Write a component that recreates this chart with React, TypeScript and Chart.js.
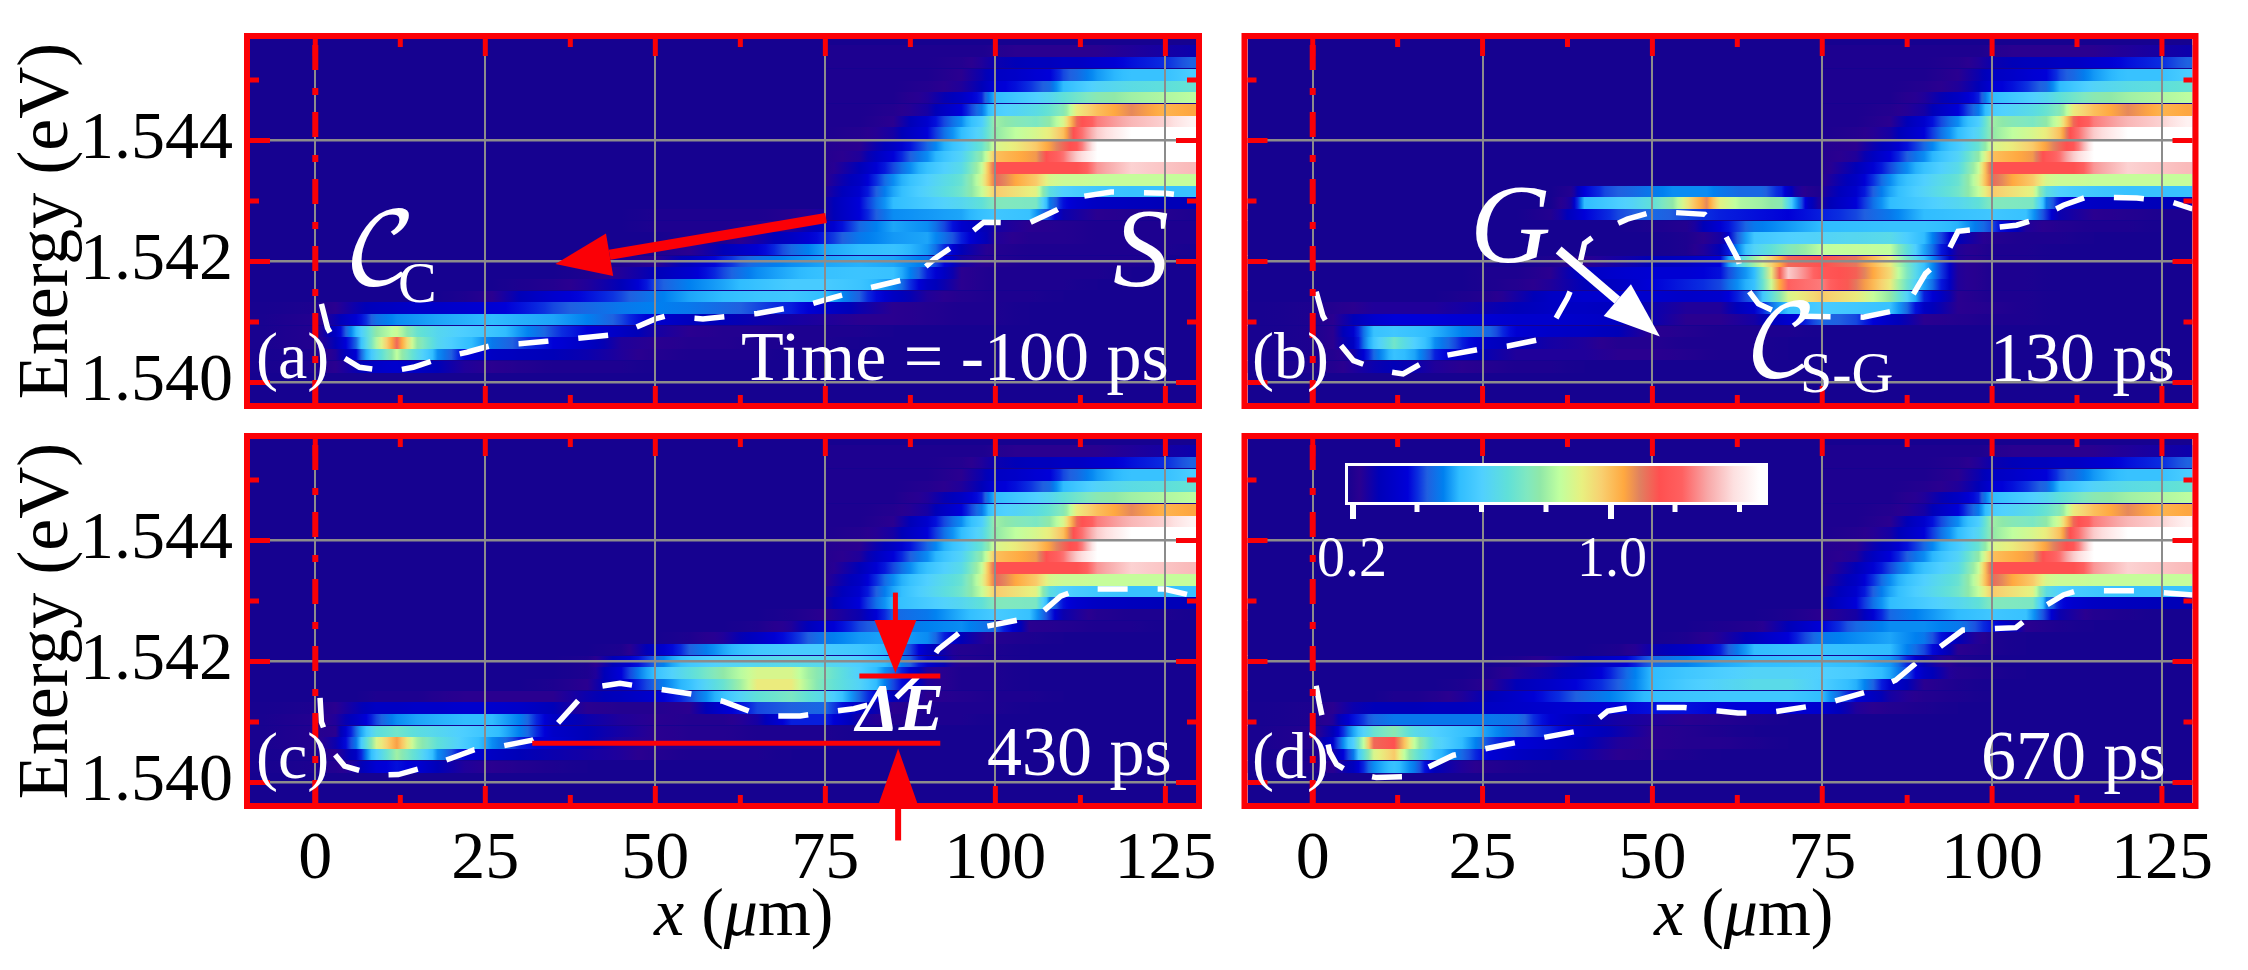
import { useEffect, useRef } from 'react';
import Chart from 'chart.js/auto';

const FAMILY = '"Liberation Serif","Times New Roman",Times,Tinos,serif';
const SERIF = FAMILY;
const RED = '#fb0006';
const GRID = '#8c8c8c';

// axis ticks
const xTicks = [0, 25, 50, 75, 100, 125];
const xMinor = [12.5, 37.5, 62.5, 87.5, 112.5];
const yTicks = [1.54, 1.542, 1.544];
const yMinor = [1.541, 1.543, 1.545];

// colour bar of the figure, intensity x 100
const barLevels = [18, 22, 28, 37, 40, 43, 48, 53, 60, 68, 74, 78, 84, 91, 97, 104, 109, 115, 122, 130, 138, 146];
const heatLevels = [21, 24, 28, 34, 37, 39, 43, 48, 56, 66, 73, 78, 84, 91, 97, 104, 109, 115, 122, 130, 138, 146];
const colors = ['#160290', '#2a0090', '#0000b8', '#0000d8', '#0a2de0', '#2060e0', '#0080f0', '#30bdff', '#50d0ff', '#60e0d8', '#80e8c0', '#90e8a8', '#c0ff9f', '#e8f080', '#f8d070', '#ffa840', '#e08060', '#ff5050', '#ff6060', '#f8a8a8', '#fde0e0', '#ffffff'];
const barTicks = [20, 40, 60, 80, 100, 120, 140];

const lowerX = [-10, 0, 3, 6, 9, 12, 15, 18, 22, 26, 30, 35, 40, 45, 50, 55, 60, 65, 70, 75, 80, 85, 90, 95, 100, 105, 110, 115, 120, 125, 130];
const lowerE = [1.54026, 1.54046, 1.54065, 1.54084, 1.54104, 1.54123, 1.54142, 1.54162, 1.54181, 1.542, 1.5422, 1.54239, 1.54258, 1.54278];
const upperX = [75, 80, 85, 90, 95, 98, 100, 103, 106, 108, 110, 112, 115, 120, 125, 130];
const upperE = [1.54297, 1.54316, 1.54335, 1.54355, 1.54374, 1.54393, 1.54413, 1.54432, 1.54451, 1.54471, 1.5449, 1.54509, 1.54529, 1.54548];
const rowHalf = 0.0000965;

// the S region looks the same in all four frames
const upperRows = [
  [26, 34, 48, 54, 60, 66, 74, 73, 72, 42, 35, 32, 30, 29, 28, 28],
  [25, 32, 46, 58, 70, 85, 98, 94, 90, 64, 56, 54, 52, 50, 50, 50],
  [24, 30, 44, 56, 68, 88, 112, 104, 98, 88, 86, 86, 85, 85, 85, 85],
  [23, 28, 38, 50, 62, 85, 115, 115, 115, 115, 115, 115, 128, 136, 134, 132],
  [23, 25, 34, 44, 58, 78, 100, 103, 106, 118, 124, 135, 146, 146, 146, 146],
  [23, 24, 30, 40, 54, 68, 88, 92, 98, 105, 112, 118, 146, 146, 146, 146],
  [22, 23, 26, 34, 48, 60, 78, 84, 88, 92, 100, 120, 135, 146, 146, 146],
  [22, 22, 24, 32, 44, 55, 80, 75, 72, 78, 88, 112, 125, 132, 136, 145],
  [22, 22, 23, 26, 34, 42, 54, 58, 63, 68, 75, 92, 100, 108, 102, 105],
  [22, 22, 22, 25, 30, 36, 48, 52, 56, 60, 66, 70, 76, 80, 82, 84],
  [22, 22, 22, 23, 25, 28, 33, 35, 38, 40, 48, 52, 58, 63, 65, 68],
  [22, 22, 22, 22, 24, 27, 30, 31, 33, 34, 38, 40, 45, 50, 50, 56],
  [22, 22, 22, 22, 23, 25, 27, 28, 29, 29, 30, 30, 32, 35, 37, 40],
  [22, 22, 22, 22, 22, 22, 23, 24, 24, 24, 24, 24, 24, 25, 26, 27],
];

const rowsA = [
  [21, 22, 24, 27, 31, 32, 30, 28, 25, 24, 23, 22, 22, 22, 21],
  [21, 22, 25, 33, 60, 84, 62, 44, 34, 30, 29, 28, 27, 25, 23, 22, 22, 22, 21],
  [21, 23, 28, 40, 82, 112, 78, 60, 50, 42, 38, 34, 30, 25, 24, 23, 23, 22, 22, 22, 21],
  [21, 23, 30, 48, 78, 86, 68, 60, 55, 51, 45, 38, 34, 30, 26, 24, 23, 23, 22, 22, 22, 21],
  [21, 23, 27, 33, 41, 44, 45, 46, 47, 48, 47, 46, 43, 38, 32, 29, 28, 27, 26, 25, 24, 24, 23, 22, 22, 21],
  [21, 22, 24, 27, 29, 30, 31, 31, 32, 33, 35, 38, 40, 42, 43, 42, 40, 38, 36, 31, 27, 24, 23, 22, 22, 21],
  [21, 21, 21, 21, 21, 21, 21, 21, 22, 24, 28, 32, 35, 38, 42, 46, 48, 51, 52, 48, 39, 30, 25, 23, 22, 22, 21],
  [21, 21, 21, 21, 21, 21, 21, 21, 21, 21, 22, 23, 25, 28, 38, 43, 46, 50, 54, 54, 51, 44, 30, 24, 22, 22, 22, 21],
  [21, 21, 21, 21, 21, 21, 21, 21, 21, 21, 21, 21, 22, 25, 28, 32, 38, 44, 47, 50, 51, 50, 36, 24, 22, 22, 22, 22, 21],
  [21, 21, 21, 21, 21, 21, 21, 21, 21, 21, 21, 21, 21, 22, 24, 29, 36, 41, 44, 46, 47, 46, 42, 26, 23, 22, 22, 22, 22, 21],
  [21, 21, 21, 21, 21, 21, 21, 21, 21, 21, 21, 21, 21, 21, 22, 24, 28, 33, 40, 46, 48, 50, 45, 28, 23, 22, 22, 22, 22, 22, 21],
  [21, 21, 21, 21, 21, 21, 21, 21, 21, 21, 21, 21, 21, 21, 21, 22, 22, 26, 30, 36, 42, 45, 46, 36, 25, 23, 23, 22, 22, 22, 22],
  [21, 21, 21, 21, 21, 21, 21, 21, 21, 21, 21, 21, 21, 21, 22, 22, 22, 23, 25, 30, 40, 46, 44, 32, 26, 24, 23, 22, 22, 22, 22],
  [21, 21, 21, 21, 21, 21, 21, 21, 21, 21, 21, 21, 21, 21, 22, 22, 22, 22, 23, 26, 34, 44, 45, 46, 52, 50, 27, 24, 23, 23, 22],
];

const rowsB = [
  [21, 22, 23, 25, 27, 28, 27, 25, 24, 23, 22, 22, 21],
  [21, 22, 23, 26, 40, 50, 46, 36, 31, 27, 25, 25, 25, 24, 24, 23, 22, 22, 21],
  [21, 22, 24, 30, 52, 70, 56, 44, 36, 30, 28, 26, 25, 23, 23, 22, 22, 22, 21],
  [21, 22, 24, 32, 50, 52, 50, 47, 43, 40, 33, 31, 30, 28, 24, 23, 22, 22, 22, 21],
  [21, 22, 24, 28, 32, 34, 34, 34, 33, 33, 32, 32, 31, 30, 27, 24, 24, 26, 32, 40, 38, 30, 24, 23, 22, 22, 21],
  [21, 22, 23, 24, 25, 25, 25, 25, 26, 27, 28, 30, 30, 29, 27, 25, 25, 32, 50, 54, 52, 50, 30, 24, 23, 22, 21],
  [21, 21, 21, 21, 21, 21, 21, 21, 22, 23, 26, 30, 32, 32, 32, 31, 32, 40, 88, 98, 92, 78, 36, 24, 22, 22, 21],
  [21, 21, 21, 21, 21, 21, 21, 21, 21, 22, 23, 25, 28, 30, 34, 36, 38, 50, 122, 125, 110, 92, 46, 25, 22, 22, 21],
  [21, 21, 21, 21, 21, 21, 21, 21, 21, 22, 22, 24, 30, 32, 33, 33, 35, 48, 135, 118, 113, 95, 50, 25, 22, 22, 21],
  [21, 21, 21, 21, 21, 21, 21, 21, 21, 21, 21, 22, 24, 26, 28, 30, 34, 80, 112, 115, 110, 92, 50, 25, 22, 22, 21],
  [21, 21, 21, 21, 21, 21, 21, 21, 21, 21, 21, 21, 21, 21, 21, 22, 28, 58, 74, 84, 85, 84, 46, 25, 22, 22, 21],
  [21, 21, 21, 21, 21, 21, 21, 21, 21, 21, 21, 21, 21, 21, 21, 22, 26, 52, 56, 58, 60, 62, 48, 28, 23, 22, 22, 21],
  [21, 21, 21, 21, 21, 21, 21, 21, 21, 21, 21, 21, 21, 21, 22, 23, 33, 42, 45, 48, 49, 50, 50, 47, 38, 25, 23, 22, 22, 21],
  [21, 21, 21, 21, 21, 21, 21, 21, 21, 21, 21, 23, 34, 38, 40, 38, 36, 35, 34, 36, 38, 42, 48, 50, 52, 50, 27, 24, 23, 22, 22],
];

// the short G line in frame b
const gX = [35, 38, 40, 43, 47, 50, 53, 56, 58, 60, 63, 66, 69, 71, 73, 75];
const gE = [1.54297, 1.54316];
const gRows = [
  [21, 26, 48, 52, 58, 66, 78, 98, 108, 90, 82, 80, 76, 46, 30, 24],
  [21, 23, 34, 38, 40, 42, 44, 44, 44, 42, 40, 40, 36, 26, 23, 22],
];

const rowsC = [
  [21, 22, 23, 26, 33, 35, 33, 28, 25, 24, 23, 22, 21],
  [21, 22, 24, 30, 55, 80, 64, 44, 33, 30, 28, 27, 26, 25, 23, 22, 22, 22, 21],
  [21, 23, 27, 42, 88, 105, 80, 66, 54, 44, 36, 32, 28, 25, 24, 23, 23, 22, 22, 22, 21],
  [21, 23, 24, 40, 64, 70, 64, 60, 55, 50, 43, 31, 28, 26, 24, 23, 23, 22, 22, 22, 21],
  [21, 23, 25, 30, 38, 44, 46, 47, 48, 48, 43, 30, 27, 25, 24, 23, 23, 26, 36, 36, 26, 23, 22, 22, 21],
  [21, 22, 24, 27, 30, 30, 31, 31, 32, 32, 31, 28, 24, 23, 23, 24, 32, 38, 39, 40, 30, 24, 22, 22, 22, 21],
  [21, 21, 21, 21, 22, 22, 22, 23, 24, 24, 24, 24, 27, 29, 32, 38, 50, 66, 72, 60, 40, 28, 24, 23, 22, 22, 21],
  [21, 21, 21, 21, 21, 21, 21, 21, 21, 21, 21, 22, 24, 32, 40, 50, 68, 92, 92, 70, 58, 38, 25, 22, 22, 21],
  [21, 21, 21, 21, 21, 21, 21, 21, 21, 21, 21, 21, 22, 34, 50, 64, 78, 88, 88, 72, 56, 40, 25, 22, 22, 21],
  [21, 21, 21, 21, 21, 21, 21, 21, 21, 21, 21, 21, 22, 30, 40, 52, 58, 60, 62, 60, 55, 46, 32, 23, 22, 21],
  [21, 21, 21, 21, 21, 21, 21, 21, 21, 21, 21, 21, 21, 22, 30, 39, 46, 52, 54, 54, 52, 46, 30, 23, 22, 21],
  [21, 21, 21, 21, 21, 21, 21, 21, 21, 21, 21, 21, 21, 21, 21, 22, 25, 30, 36, 42, 45, 46, 44, 28, 23, 22, 21],
  [21, 21, 21, 21, 21, 21, 21, 21, 21, 21, 21, 21, 21, 21, 21, 21, 21, 22, 25, 32, 38, 41, 43, 44, 40, 24, 23, 22, 22, 21],
  [21, 21, 21, 21, 21, 21, 21, 21, 21, 21, 21, 21, 21, 21, 21, 21, 21, 21, 22, 24, 27, 40, 42, 47, 54, 50, 27, 23, 22, 22, 21],
];

const rowsD = [
  [21, 22, 24, 29, 44, 50, 42, 28, 25, 23, 22, 21],
  [21, 22, 26, 42, 88, 98, 70, 50, 40, 33, 30, 28, 26, 24, 23, 22, 21],
  [21, 23, 32, 56, 112, 115, 84, 60, 48, 38, 34, 31, 28, 25, 24, 23, 23, 22, 21],
  [21, 23, 28, 46, 68, 76, 62, 56, 50, 45, 40, 36, 30, 27, 24, 23, 22, 21],
  [21, 22, 25, 35, 40, 42, 42, 42, 42, 42, 41, 33, 28, 26, 25, 24, 23, 22, 21],
  [21, 22, 24, 27, 28, 28, 28, 29, 29, 30, 31, 32, 33, 34, 35, 35, 34, 34, 33, 32, 25, 23, 22, 21],
  [21, 21, 21, 21, 21, 22, 22, 23, 25, 28, 31, 36, 40, 44, 49, 51, 52, 52, 52, 48, 33, 26, 23, 22, 21],
  [21, 21, 21, 21, 21, 21, 21, 21, 22, 24, 28, 31, 35, 39, 48, 54, 58, 62, 62, 55, 47, 32, 24, 22, 21],
  [21, 21, 21, 21, 21, 21, 21, 21, 21, 22, 25, 27, 30, 38, 48, 52, 55, 58, 58, 56, 54, 46, 30, 23, 22, 21],
  [21, 21, 21, 21, 21, 21, 21, 21, 21, 21, 22, 25, 28, 32, 40, 43, 46, 48, 49, 50, 48, 45, 28, 22, 21],
  [21, 21, 21, 21, 21, 21, 21, 21, 21, 21, 21, 21, 21, 22, 27, 30, 36, 48, 50, 50, 49, 48, 38, 24, 22, 21],
  [21, 21, 21, 21, 21, 21, 21, 21, 21, 21, 21, 21, 21, 21, 21, 22, 25, 29, 34, 42, 44, 46, 42, 28, 22, 21],
  [21, 21, 21, 21, 21, 21, 21, 21, 21, 21, 21, 21, 21, 21, 21, 21, 22, 23, 28, 34, 40, 44, 44, 42, 35, 24, 22, 21],
  [21, 21, 21, 21, 21, 21, 21, 21, 21, 21, 21, 21, 21, 21, 21, 21, 21, 21, 22, 24, 26, 40, 44, 48, 52, 50, 27, 23, 22, 21],
];

// white dashed band edge of each frame
const edgeAX = [0.9, 1.8, 4.3, 6.5, 11, 14.4, 18.4, 22.3, 26.2, 30, 34, 44.8, 50, 51.6, 57, 65, 73, 76, 81, 88, 91, 94.4, 98.3, 105, 109, 112.4, 117, 125, 129.6];
const edgeAE = [1.5413, 1.5409, 1.5404, 1.54025, 1.54018, 1.54025, 1.5404, 1.5405, 1.54062, 1.54064, 1.54068, 1.5408, 1.54105, 1.5411, 1.54105, 1.54114, 1.5413, 1.5414, 1.54155, 1.54174, 1.54204, 1.5423, 1.54265, 1.54264, 1.54285, 1.54307, 1.54315, 1.54313, 1.54307];
const edgeBX = [0.5, 1.5, 3.5, 6, 9.9, 13.3, 17.3, 24.7, 28.6, 33, 35.5, 37.5, 39, 40, 42.4, 46.3, 50.3, 57.7, 60.6, 62.6, 63.6, 65.6, 69.5, 81, 85.8, 88.3, 90.2, 93.2, 95, 103.6, 106.5, 110.5, 114, 121.3, 126, 129.5];
const edgeBE = [1.5415, 1.5411, 1.5407, 1.54036, 1.5402, 1.54014, 1.5404, 1.54055, 1.5406, 1.5407, 1.541, 1.5414, 1.5418, 1.5423, 1.5425, 1.5427, 1.54283, 1.54278, 1.54246, 1.54204, 1.5416, 1.5413, 1.5411, 1.54108, 1.54119, 1.54144, 1.5418, 1.5421, 1.5425, 1.5426, 1.5427, 1.54293, 1.54307, 1.54305, 1.543, 1.54287];
const edgeCX = [0.7, 0.9, 2.6, 4.3, 8.8, 12.2, 16.7, 20, 23.4, 27.4, 31.9, 34.7, 40.3, 44.8, 56, 60, 64, 67.9, 71.3, 79.2, 85.4, 89.3, 91.6, 95, 106.2, 109.6, 112.4, 124.8, 129.3];
const edgeCE = [1.5414, 1.541, 1.5405, 1.54027, 1.54012, 1.54013, 1.54027, 1.5404, 1.54054, 1.5406, 1.5407, 1.54086, 1.54156, 1.54164, 1.54145, 1.54134, 1.54117, 1.5411, 1.5411, 1.54122, 1.5414, 1.54183, 1.5422, 1.5425, 1.54275, 1.54308, 1.5432, 1.5432, 1.54308];
const edgeDX = [0.5, 1, 2.5, 3.5, 5.4, 9.4, 15.3, 16.8, 20.7, 28.6, 40, 43.4, 46.8, 54.7, 62.6, 67, 75.4, 82.8, 85.8, 89.3, 92.2, 95.7, 103.5, 106.5, 110.5, 112.4, 121.3, 129.5];
const edgeDE = [1.5416, 1.5413, 1.5405, 1.5403, 1.54017, 1.54008, 1.5401, 1.54024, 1.54045, 1.54063, 1.54087, 1.54118, 1.54124, 1.54124, 1.54115, 1.54115, 1.5413, 1.54154, 1.54169, 1.54202, 1.54223, 1.54252, 1.54256, 1.54283, 1.5431, 1.54317, 1.54317, 1.5431];

const hexRgb = (h: string) => [1, 3, 5].map((i) => parseInt(h.slice(i, i + 2), 16));

function colorOf(v: number) {
  if (v <= heatLevels[0]) return colors[0];
  for (let i = 1; i < heatLevels.length; i++) {
    if (v <= heatLevels[i]) {
      const t = (v - heatLevels[i - 1]) / (heatLevels[i] - heatLevels[i - 1]);
      const a = hexRgb(colors[i - 1]);
      const b = hexRgb(colors[i]);
      return `rgb(${a.map((c, k) => Math.round(c + (b[k] - c) * t)).join(',')})`;
    }
  }
  return colors[colors.length - 1];
}

function drawRows(chart: any, xs: number[], es: number[], rows: number[][]) {
  const { ctx, scales, chartArea } = chart;
  rows.forEach((row, r) => {
    const x0 = Math.max(scales.x.getPixelForValue(xs[0]), chartArea.left);
    const x1 = Math.min(scales.x.getPixelForValue(xs[row.length - 1]), chartArea.right);
    const y0 = Math.round(scales.y.getPixelForValue(es[r] + rowHalf));
    const y1 = Math.round(scales.y.getPixelForValue(es[r] - rowHalf));
    const g = ctx.createLinearGradient(x0, 0, x1, 0);
    for (let i = 0; i < row.length - 1; i++) {
      // several stops per cell so the blend follows the colour bar
      for (let s = 0; s < 4; s++) {
        const t = s / 4;
        const px = scales.x.getPixelForValue(xs[i] + (xs[i + 1] - xs[i]) * t);
        const pos = (px - x0) / (x1 - x0);
        if (pos >= 0 && pos <= 1) g.addColorStop(pos, colorOf(row[i] + (row[i + 1] - row[i]) * t));
      }
    }
    ctx.fillStyle = g;
    ctx.fillRect(x0, y0, x1 - x0, y1 - y0);
  });
}

function arrow(ctx: any, x0: number, y0: number, x1: number, y1: number, lw: number, hl: number, hw: number, col: string) {
  const a = Math.atan2(y1 - y0, x1 - x0);
  const bx = x1 - hl * Math.cos(a);
  const by = y1 - hl * Math.sin(a);
  ctx.strokeStyle = col;
  ctx.fillStyle = col;
  ctx.lineWidth = lw;
  ctx.setLineDash([]);
  ctx.beginPath();
  ctx.moveTo(x0, y0);
  ctx.lineTo(bx, by);
  ctx.stroke();
  ctx.beginPath();
  ctx.moveTo(x1, y1);
  ctx.lineTo(bx - (hw / 2) * Math.sin(a), by + (hw / 2) * Math.cos(a));
  ctx.lineTo(bx + (hw / 2) * Math.sin(a), by - (hw / 2) * Math.cos(a));
  ctx.closePath();
  ctx.fill();
}

function text(ctx: any, s: string, x: number, y: number, font: string, col = '#fff', align = 'left') {
  ctx.font = font;
  ctx.fillStyle = col;
  ctx.textAlign = align;
  ctx.textBaseline = 'alphabetic';
  ctx.fillText(s, x, y);
}

function xTitle(ctx: any, x: number, y: number) {
  const parts: [string, string][] = [['x', 'italic '], [' (', ''], ['\u03bc', 'italic '], ['m)', '']];
  let at = x;
  parts.forEach(([s, st]) => {
    text(ctx, s, at, y, `${st}68px ${SERIF}`, '#000');
    at += ctx.measureText(s).width;
  });
}

const SCRIPT = '"DejaVu Math TeX Gyre","DejaVu Serif","Noto Sans"';

const frames: any[] = [
  {
    id: 'a', left: 0, top: 0, w: 1230, h: 432, area: [250, 39, 1196, 403], rows: rowsA, edgeX: edgeAX, edgeE: edgeAE, yLabels: true, xLabels: false,
    extra(ctx: any, sx: any, sy: any) {
      arrow(ctx, sx(75.1), sy(1.54272), sx(35.3), sy(1.54196), 10, 55, 43, RED);
      text(ctx, '(a)', 256, 378, `66px ${SERIF}`);
      text(ctx, 'Time = -100 ps', 741, 380, `70px ${SERIF}`);
      text(ctx, 'S', 1113, 286, `italic 112px ${SERIF}`);
      text(ctx, '\u{1D49E}', 344, 284, `100px ${SCRIPT}`);
      text(ctx, 'C', 398, 302, `58px ${SERIF}`);
    },
  },
  {
    id: 'b', left: 1230, top: 0, w: 1018, h: 432, area: [1247.5, 39, 2192.5, 403], rows: rowsB, edgeX: edgeBX, edgeE: edgeBE, yLabels: false, xLabels: false,
    extra(ctx: any, sx: any, sy: any) {
      arrow(ctx, sx(36.2), sy(1.54219), sx(51.1), sy(1.54076), 9, 56, 42, '#fff');
      text(ctx, '(b)', 1252, 378, `66px ${SERIF}`);
      text(ctx, '130 ps', 1990, 381, `70px ${SERIF}`);
      text(ctx, 'G', 1470, 262, `italic 112px ${SERIF}`);
      text(ctx, '\u{1D49E}', 1745, 376, `100px ${SCRIPT}`);
      text(ctx, 'S-G', 1800, 392, `58px ${SERIF}`);
    },
  },
  {
    id: 'c', left: 0, top: 432, w: 1230, h: 538, area: [250, 439, 1196, 803], rows: rowsC, edgeX: edgeCX, edgeE: edgeCE, yLabels: true, xLabels: true,
    extra(ctx: any, sx: any, sy: any) {
      ctx.setLineDash([]);
      ctx.strokeStyle = RED;
      ctx.lineWidth = 5;
      ctx.beginPath();
      ctx.moveTo(sx(31.9), sy(1.54065));
      ctx.lineTo(sx(91.9), sy(1.54065));
      ctx.moveTo(sx(80), sy(1.54176));
      ctx.lineTo(sx(91.9), sy(1.54176));
      ctx.stroke();
      arrow(ctx, sx(85.3), sy(1.54314), sx(85.3), sy(1.54181), 5, 53, 42, RED);
      arrow(ctx, sx(85.7), sy(1.53904), sx(85.7), sy(1.54056), 6, 57, 40, RED);
      text(ctx, '(c)', 256, 778, `66px ${SERIF}`);
      text(ctx, '430 ps', 987, 775, `70px ${SERIF}`);
      text(ctx, '\u0394E', 856, 730, `italic bold 68px ${SERIF}`);
      xTitle(ctx, 654, 935);
    },
  },
  {
    id: 'd', left: 1230, top: 432, w: 1018, h: 538, area: [1247.5, 439, 2192.5, 803], rows: rowsD, edgeX: edgeDX, edgeE: edgeDE, yLabels: false, xLabels: true,
    extra(ctx: any) {
      text(ctx, '(d)', 1252, 778, `66px ${SERIF}`);
      text(ctx, '670 ps', 1981, 779, `70px ${SERIF}`);
      xTitle(ctx, 1654, 935);
      // colour bar
      const barX = (v: number) => 1353 + (v - 20) * 3.225;
      const g = ctx.createLinearGradient(barX(18), 0, barX(148), 0);
      barLevels.forEach((v, i) => g.addColorStop((barX(v) - barX(18)) / (barX(148) - barX(18)), colors[i]));
      ctx.fillStyle = g;
      ctx.fillRect(1347, 465, 419, 38);
      ctx.strokeStyle = '#fff';
      ctx.lineWidth = 3;
      ctx.setLineDash([]);
      ctx.strokeRect(1346.5, 464.5, 420, 39);
      ctx.fillStyle = '#fff';
      barTicks.forEach((v) => {
        const major = v === 20 || v === 100;
        ctx.fillRect(barX(v) - 3, 505, major ? 6 : 5, major ? 14 : 7);
      });
      text(ctx, '0.2', 1352, 576, `56px ${SERIF}`, '#fff', 'center');
      text(ctx, '1.0', 1612, 576, `56px ${SERIF}`, '#fff', 'center');
    },
  },
];

const noOverflow = (s: any) => {
  s.paddingLeft = 0;
  s.paddingRight = 0;
  s.paddingTop = 0;
  s.paddingBottom = 0;
};

function Frame({ f }: { f: any }) {
  const ref = useRef<HTMLCanvasElement | null>(null);

  useEffect(() => {
    if (!ref.current) return;
    const [L, T, R, B] = f.area;

    const heat = {
      id: 'heat',
      beforeDatasetsDraw(chart: any) {
        const { ctx, chartArea } = chart;
        ctx.save();
        ctx.beginPath();
        ctx.rect(chartArea.left, chartArea.top, chartArea.width, chartArea.height);
        ctx.clip();
        ctx.fillStyle = colorOf(21);
        ctx.fillRect(chartArea.left, chartArea.top, chartArea.width, chartArea.height);
        drawRows(chart, lowerX, lowerE, f.rows);
        drawRows(chart, upperX, upperE, upperRows);
        if (f.id === 'b') drawRows(chart, gX, gE, gRows);
        ctx.restore();
      },
    };

    const frameMarks = {
      id: 'frameMarks',
      afterDraw(chart: any) {
        const { ctx, scales, chartArea: a } = chart;
        const sx = (v: number) => scales.x.getPixelForValue(v);
        const sy = (v: number) => scales.y.getPixelForValue(v);
        ctx.save();

        // dashed marker of x = 0
        ctx.strokeStyle = RED;
        ctx.lineWidth = 6;
        ctx.setLineDash([25, 18, 7, 17]);
        ctx.lineDashOffset = 61;
        ctx.beginPath();
        ctx.moveTo(sx(0), a.top);
        ctx.lineTo(sx(0), a.bottom);
        ctx.stroke();
        ctx.setLineDash([]);
        ctx.lineDashOffset = 0;

        // inward ticks on all four sides
        ctx.lineWidth = 5;
        const xMark = (v: number, len: number) => {
          ctx.moveTo(sx(v), a.top);
          ctx.lineTo(sx(v), a.top + len);
          ctx.moveTo(sx(v), a.bottom);
          ctx.lineTo(sx(v), a.bottom - len);
        };
        const yMark = (v: number, len: number) => {
          ctx.moveTo(a.left, sy(v));
          ctx.lineTo(a.left + len, sy(v));
          ctx.moveTo(a.right, sy(v));
          ctx.lineTo(a.right - len, sy(v));
        };
        ctx.beginPath();
        xTicks.forEach((v) => xMark(v, 17));
        xMinor.forEach((v) => xMark(v, 8));
        yTicks.forEach((v) => yMark(v, 20));
        yMinor.forEach((v) => yMark(v, 9));
        ctx.stroke();

        ctx.lineWidth = 6;
        ctx.strokeRect(a.left - 3, a.top - 3, a.width + 6, a.height + 6);

        // page coordinates from here on
        ctx.translate(-f.left, -f.top);
        f.extra(ctx, (v: number) => sx(v) + f.left, (v: number) => sy(v) + f.top);
        ctx.restore();
      },
    };

    const chart = new Chart(ref.current, {
      type: 'scatter',
      data: {
        datasets: [
          {
            data: f.edgeX.map((x: number, i: number) => ({ x, y: f.edgeE[i] })),
            showLine: true,
            borderColor: '#fff',
            borderWidth: 5.5,
            borderDash: [30, 30],
            pointRadius: 0,
            tension: 0,
          },
        ],
      },
      options: {
        animation: false,
        responsive: false,
        devicePixelRatio: 1,
        layout: {
          padding: { left: 0, top: T - f.top, right: f.w - (R - f.left), bottom: f.xLabels ? 0 : f.h - (B - f.top) },
        },
        plugins: { legend: { display: false }, tooltip: { enabled: false } },
        scales: {
          x: {
            type: 'linear',
            min: -9.6,
            max: 129.5,
            afterBuildTicks(s: any) {
              s.ticks = xTicks.map((value) => ({ value }));
            },
            afterFit(s: any) {
              noOverflow(s);
              s.height = f.xLabels ? f.h - (B - f.top) : 0;
            },
            grid: { color: GRID, lineWidth: 2, drawTicks: false, z: 1 },
            border: { display: false },
            ticks: {
              display: f.xLabels,
              color: '#000',
              padding: 16,
              maxRotation: 0,
              autoSkip: false,
              font: { family: FAMILY, size: 68 },
              callback: (v: any) => String(v),
            },
          },
          y: {
            type: 'linear',
            min: 1.53966,
            max: 1.54568,
            afterBuildTicks(s: any) {
              s.ticks = yTicks.map((value) => ({ value }));
            },
            afterFit(s: any) {
              noOverflow(s);
              s.width = L - f.left;
            },
            grid: { color: GRID, lineWidth: 2.5, drawTicks: false, z: 1 },
            border: { display: false },
            title: {
              display: f.yLabels,
              text: 'Energy (eV)',
              color: '#000',
              padding: { top: 5, bottom: 0 },
              font: { family: FAMILY, size: 72 },
            },
            ticks: {
              display: f.yLabels,
              color: '#000',
              padding: 17,
              autoSkip: false,
              font: { family: FAMILY, size: 68 },
              callback: (v: any) => Number(v).toFixed(3),
            },
          },
        },
      },
      plugins: [heat, frameMarks],
    } as any);

    return () => chart.destroy();
  }, [f]);

  return (
    <canvas
      ref={ref}
      width={f.w}
      height={f.h}
      style={{ position: 'absolute', left: f.left, top: f.top, width: f.w, height: f.h, display: 'block' }}
    />
  );
}

export default function App() {
  return (
    <div style={{ position: 'absolute', left: 0, top: 0, width: 2248, height: 970, background: '#fff', overflow: 'hidden' }}>
      {frames.map((f) => (
        <Frame key={f.id} f={f} />
      ))}
    </div>
  );
}
